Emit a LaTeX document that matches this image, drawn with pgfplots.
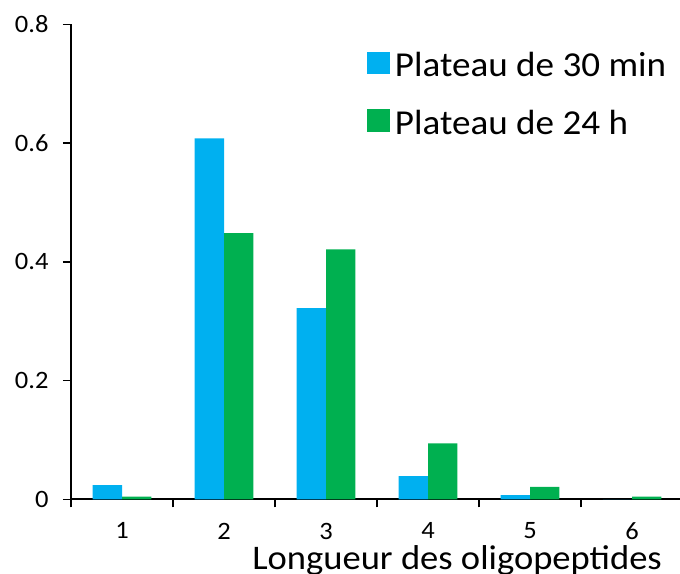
\documentclass[border=0pt]{standalone}
\usepackage{fontspec}
\setmainfont{Carlito}[FakeStretch=1.06]
\usepackage{pgfplots}
\pgfplotsset{compat=1.18}
\definecolor{cblue}{HTML}{00B0F0}
\definecolor{cgreen}{HTML}{00B050}
\begin{document}
\begin{tikzpicture}
\begin{axis}[
  scale only axis, width=609bp, height=475bp,
  at={(0,0)}, anchor=south west,
  xmin=0.5, xmax=6.47, ymin=0, ymax=0.8,
  axis x line=bottom, axis y line=left,
  axis line style={-, line width=2bp, black},
  tick align=outside, major tick length=8bp,
  tick style={line width=1.5bp, black},
  ybar=0pt, bar width=29.3bp,
  xtick={0.5,1.5,2.5,3.5,4.5,5.5}, xticklabels={{},{},{},{},{},{}},
  extra x ticks={1,2,3,4,5,6},
  extra x tick labels={1,2,3,4,5,6},
  extra x tick style={major tick length=0pt},
  ytick={0,0.2,0.4,0.6,0.8},
  yticklabels={0,0.2,0.4,0.6,0.8},
  xticklabel style={font=\fontsize{25bp}{30bp}\selectfont, yshift=-20bp},
  yticklabel style={font=\fontsize{25bp}{30bp}\selectfont, xshift=-11bp},
  xlabel={Longueur des oligopeptides},
  xlabel style={at={(rel axis cs:0.634,0)}, anchor=base, yshift=-70.5bp, inner sep=0pt,
    font=\fontsize{34.5bp}{40bp}\selectfont},
  legend style={at={(rel axis cs:0.486,0.942)}, anchor=north west, draw=none, fill=none,
    inner sep=0pt, outer sep=0pt, row sep=32.3bp, column sep=5bp,
    font=\fontsize{35bp}{40bp}\selectfont,
    nodes={inner sep=0pt, outer sep=0pt, text height=25bp, text depth=0bp}},
  legend cell align=left,
  legend image code/.code={\fill[#1] (0bp,-10.1bp) rectangle (23bp,12.5bp);},
]
\addplot[fill=cblue, draw=none] coordinates {(1,0.024) (2,0.608) (3,0.322) (4,0.039) (5,0.007) (6,0)};
\addplot[fill=cgreen, draw=none] coordinates {(1,0.0045) (2,0.4485) (3,0.421) (4,0.094) (5,0.021) (6,0.0045)};
\legend{Plateau de 30 min, Plateau de 24 h}
\end{axis}
\pgfresetboundingbox
\path[use as bounding box] (-71bp,-74.7bp) rectangle (609bp,499.3bp);
\end{tikzpicture}
\end{document}
